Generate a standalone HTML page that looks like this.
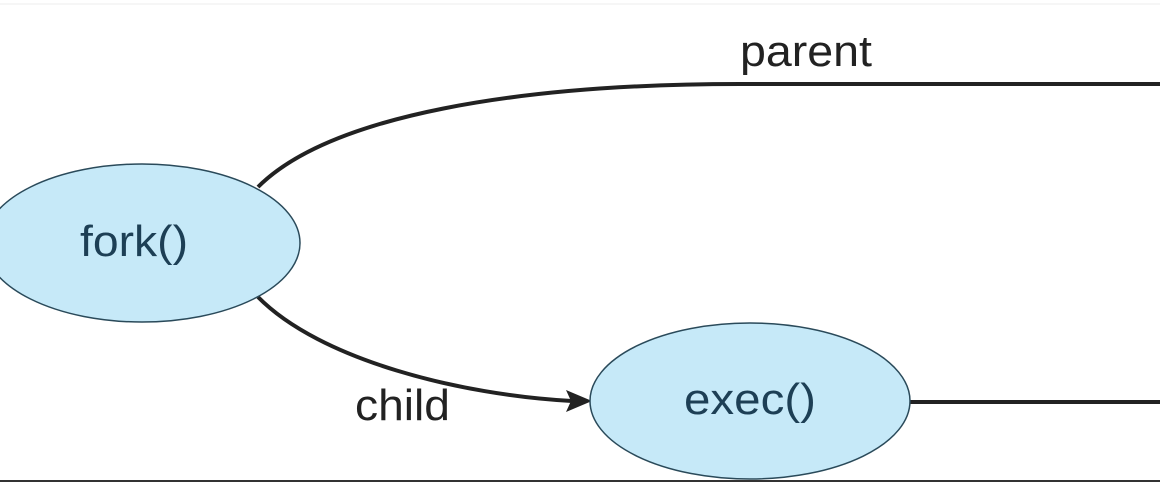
<!DOCTYPE html>
<html><head><style>
html,body{margin:0;padding:0;background:#fff;width:1160px;height:487px;overflow:hidden}
</style></head><body>
<svg width="1160" height="487" viewBox="0 0 1160 487" xmlns="http://www.w3.org/2000/svg">
<line x1="0" y1="4" x2="1160" y2="4" stroke="#eee" stroke-width="1"/>
<line x1="0" y1="481" x2="1160" y2="481" stroke="#333" stroke-width="2"/>
<path d="M258,187 C330,115 520,84 740,84 L1160,84" fill="none" stroke="#222" stroke-width="4"/>
<path d="M258,297 C320,360 460,395 572,401" fill="none" stroke="#222" stroke-width="4"/>
<polygon points="592,401 566,390 571,401 566,412" fill="#222"/>
<line x1="910" y1="402" x2="1160" y2="402" stroke="#222" stroke-width="4"/>
<ellipse cx="142" cy="243" rx="158" ry="79" fill="#c6e9f8" stroke="#2a4a5a" stroke-width="1.5"/>
<ellipse cx="750" cy="401" rx="160" ry="78" fill="#c6e9f8" stroke="#2a4a5a" stroke-width="1.5"/>
<g font-family="Liberation Sans, sans-serif" font-size="44">
<text x="80" y="256" textLength="108" lengthAdjust="spacingAndGlyphs" fill="#1d3f55">fork()</text>
<text x="684" y="414" textLength="132" lengthAdjust="spacingAndGlyphs" fill="#1d3f55">exec()</text>
<text x="740" y="66" textLength="132" lengthAdjust="spacingAndGlyphs" fill="#222">parent</text>
<text x="355" y="420" textLength="95" lengthAdjust="spacingAndGlyphs" fill="#222">child</text>
</g>
</svg>
</body></html>
